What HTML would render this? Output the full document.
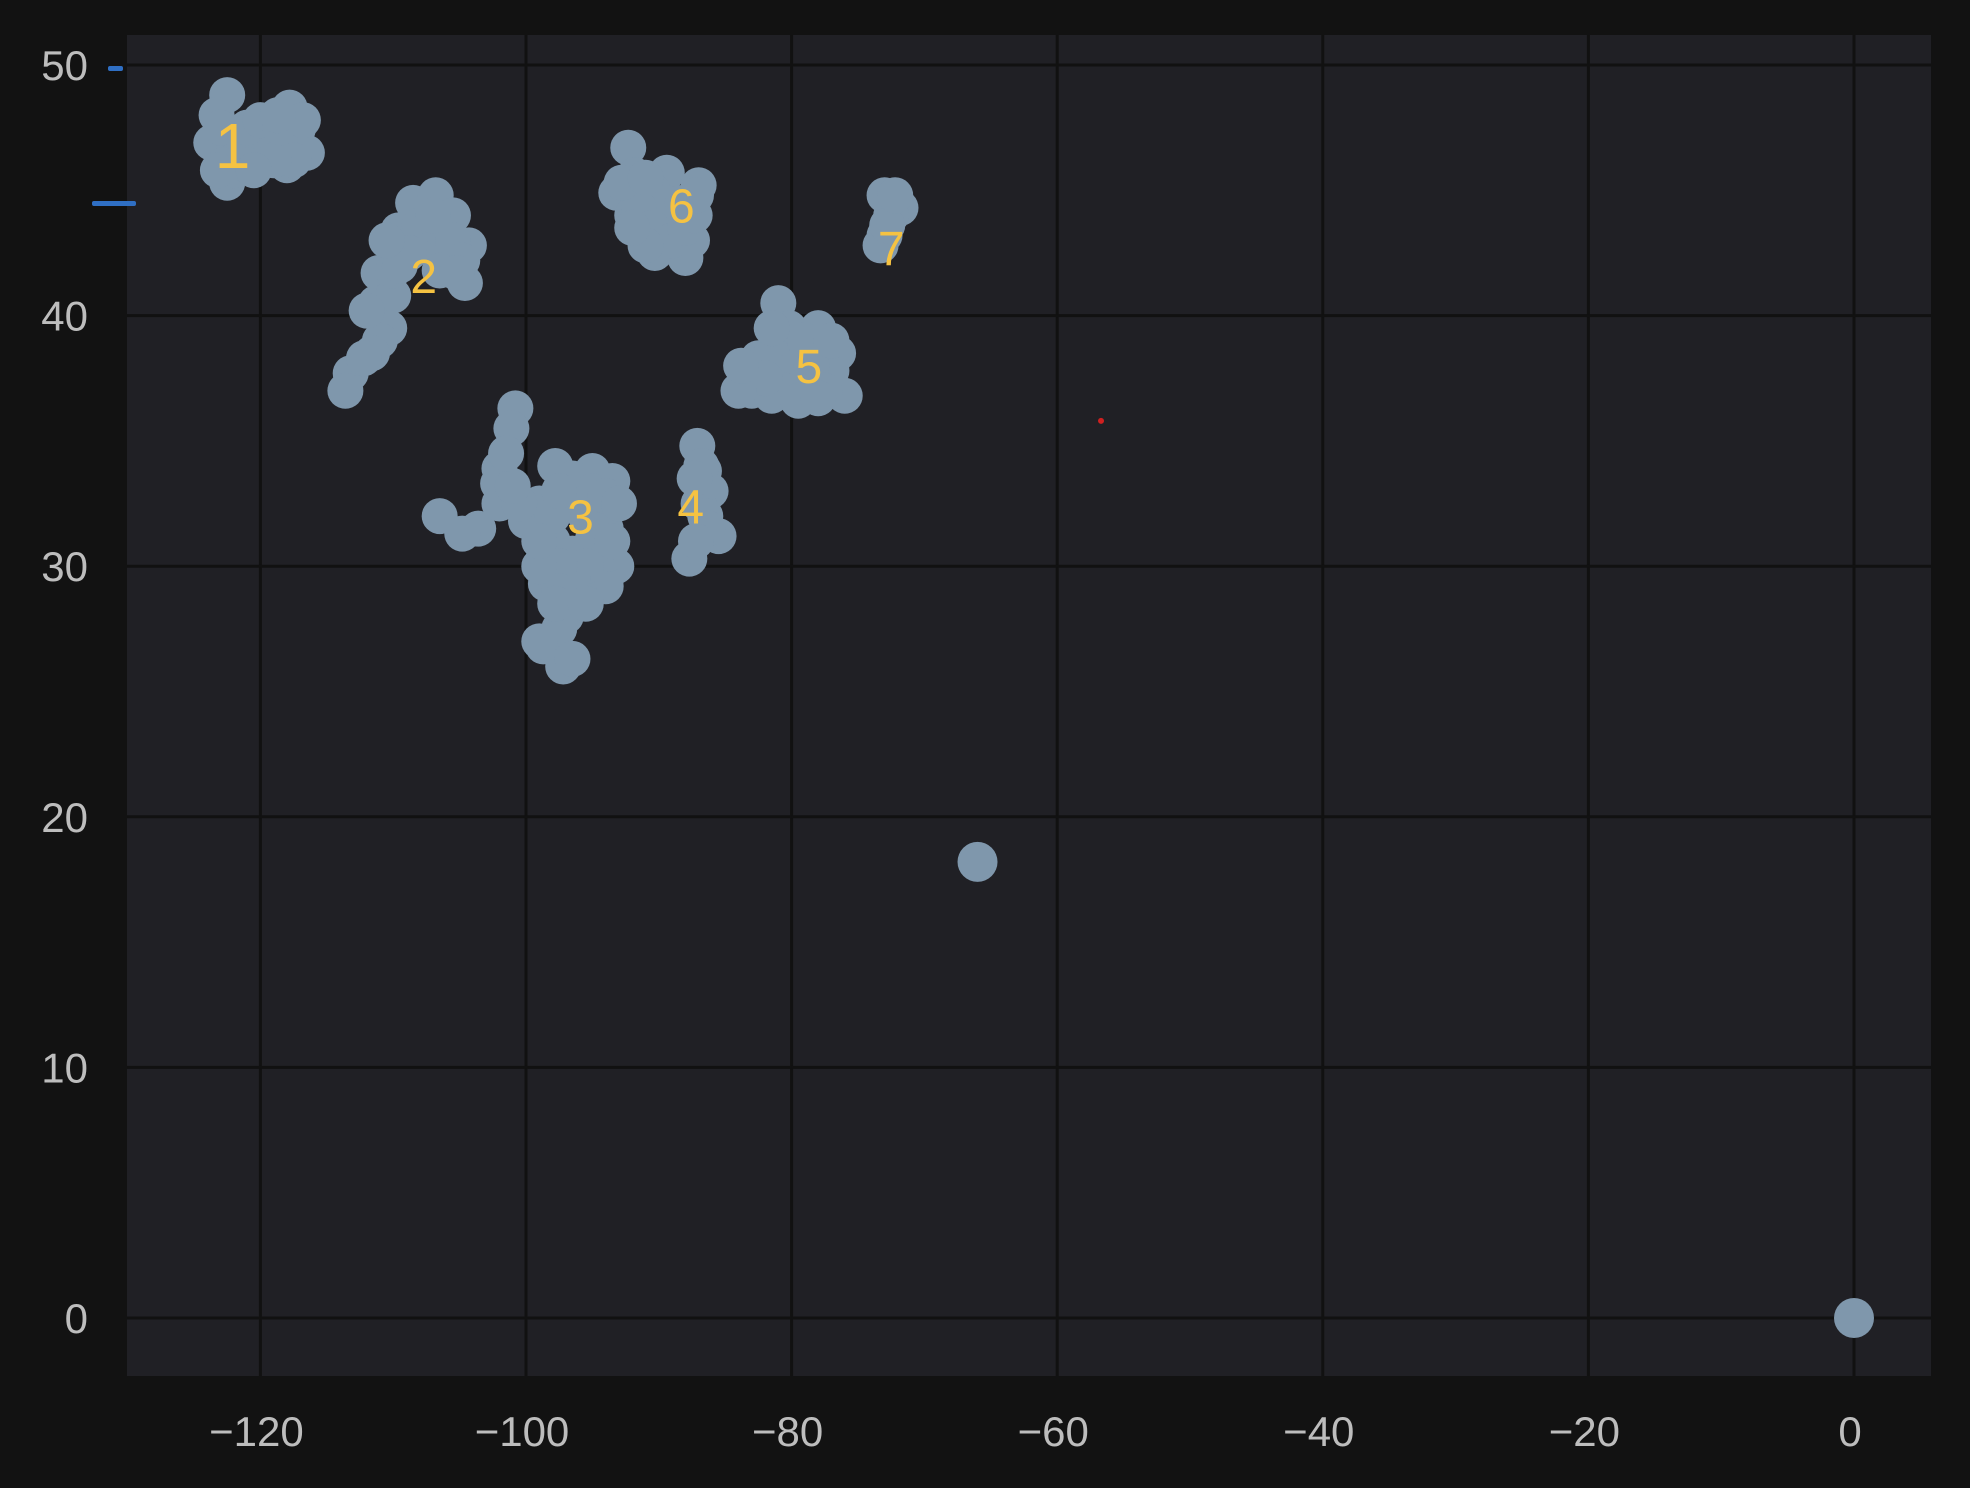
<!DOCTYPE html>
<html><head><meta charset="utf-8"><style>
html,body{margin:0;padding:0;background:#121212;}
svg{display:block}
</style></head><body>
<svg id="chart" width="1970" height="1488" xmlns="http://www.w3.org/2000/svg">
<rect x="0" y="0" width="1970" height="1488" fill="#121212"/>
<rect x="127" y="35" width="1804" height="1341" fill="#202025"/>
<g id="grid"></g>
<g id="points"></g>
<g id="labels"></g>
<g id="axes"></g>
<rect x="108" y="66" width="15" height="5" rx="2" fill="#2f6fc4"/>
<rect x="92" y="201" width="44" height="5" rx="2" fill="#2f6fc4"/>
</svg>
<script>
const xTicks=[-120,-100,-80,-60,-40,-20,0];
const yTicks=[0,10,20,30,40,50];
const lons=[-122.5,-123.3,-123.7,-122.5,-121.5,-119,-117.8,-117.2,-116.5,-118,-120,-123,-122,-117.5,
-121,-120,-121,-119,-118.5,-122.8,-123.2,-116.8,-118.7,-120.5,
-108.5,-106.8,-105.5,-109.6,-104.3,-104.6,-106,-111.1,-111.3,-110,-110.3,-111,-113.2,-113.6,-107.5,-105,
-108,-106.5,-105.5,-104.8,-106.5,-108.8,-110,-109.5,-110.5,-112,-111.6,-112.2,-107,-105.2,
-100.8,-101.1,-102,-102.1,-106.5,-103.6,-102,-97.8,-95,-93.5,-95.5,-94,-93.2,-94,-96,-98.5,-97,-98.7,-97.2,-98,-99,-100,-96.5,
-96.5,-95,-96.5,-95,-94,-93.8,-95.5,-96.5,-97.5,-97.5,-99,-98,-97.5,-99,-100.5,-101,-101.5,-104.8,-97.5,-96.5,-97.8,-99,-95.5,-93.5,-93,
-87.1,-86.6,-86.1,-87.7,-85.5,-87,
-86.8,-87.3,-86.5,-86.3,-87.2,
-81,-80.2,-78,-76.5,-82.5,-83,-81.5,-79,-76,-77,-79.5,
-80.5,-81.5,-80,-78.5,-77.5,-80.5,-82,-79,-77,-81.5,-79.5,-78,-84,-83.8,
-92.3,-93.2,-91.8,-89.4,-87,-87.5,-90.3,-88,-92,-89,
-90.5,-89.5,-88.2,-91.5,-90.5,-89,-88,-87.3,-91,-87.2,-92.8,-91,-92,
-73,-71.8,-73,-73.3,-72.5,-72.8,-72.2,
-66,0];
const lats=[48.8,48,46.9,45.3,46.5,47,48.3,47.4,46.5,46,46.5,47.5,45.8,46.2,
47.5,47.8,46,46.2,47.5,46,45.8,47.8,48,45.8,
44.5,44.8,44,43.4,42.8,41.3,42,41.7,40.5,40.8,39.5,39,37.7,37,42.8,42,
43.6,43.5,43,42.2,41.8,42.5,41.8,42,43,40.2,38.5,38.3,44,41.7,
36.3,35.5,33.9,33.3,32,31.5,32.5,34,33.8,33.4,32,31.5,30,29.2,29,29.3,28,26.8,26,31,32.5,31.8,30.5,
33.5,33,32.5,31,32.8,30.5,30,29.5,30,29,30,32,33,31,32.5,33.2,34.5,31.3,27.5,26.3,28.5,27,28.5,31,32.5,
34.8,33.8,33,30.3,31.2,32.5,
34,33.5,32,31.5,31,
40.5,39.5,39.5,38.5,38.3,37,36.8,37,36.8,37.8,38.5,
38,38.5,37.8,38,37,37,37.5,39,39,39.5,36.6,36.7,37,38,
46.7,44.9,45.6,45.7,45.2,43,42.5,42.3,44,44,
45,44.5,44.5,44.3,43.5,43,43.5,44,42.8,44.8,45.3,45.5,43.5,
44.8,44.3,43.2,42.8,44,43.6,44.8,
18.2,0];
const labelText=["1","2","3","4","5","6","7"];
const labelLon=[-122.1,-107.7,-95.9,-87.6,-78.7,-88.3,-72.5];
const labelLat=[46.8,41.6,32,32.4,38,44.4,42.7];
const NS="http://www.w3.org/2000/svg";
const X=v=>1854+v*13.28;
const Y=v=>1318-v*25.06;
function mk(t,a,p){const e=document.createElementNS(NS,t);for(const k in a)e.setAttribute(k,a[k]);p.appendChild(e);return e;}
const grid=document.getElementById('grid'),axes=document.getElementById('axes'),pts=document.getElementById('points'),lab=document.getElementById('labels');
xTicks.forEach(t=>{
 const l=mk('line',{x1:X(t),x2:X(t),y1:35,y2:1376,stroke:'#111',"stroke-width":3},grid);
 
 
 const tx=mk('text',{x:X(t)-4,y:1446,fill:'#bdbdbd',"font-size":42,"text-anchor":"middle","font-family":"Liberation Sans, sans-serif"},axes);
 tx.textContent=(t<0?'\u2212'+(-t):t);
 
 
});
yTicks.forEach(t=>{
 const l=mk('line',{x1:127,x2:1931,y1:Y(t),y2:Y(t),stroke:'#111',"stroke-width":3},grid);
 
 
 const tx=mk('text',{x:88,y:Y(t)+15,fill:'#bdbdbd',"font-size":42,"text-anchor":"end","font-family":"Liberation Sans, sans-serif"},axes);
 tx.textContent=t;
 
 
});
for(let i=0;i<lons.length;i++){
 const c=mk('circle',{cx:X(lons[i]),cy:Y(lats[i]),r:(i>=lons.length-2?20:18),fill:'#7f97ac'},pts);
 
 
}
const red=mk('circle',{cx:X(-56.7),cy:Y(35.8),r:3,fill:'#d02020'},pts);


for(let i=0;i<labelText.length;i++){
 const fs=i===0?64:48;
 const t=mk('text',{x:X(labelLon[i]),y:Y(labelLat[i])+fs*0.36,fill:'#f5c242',"font-size":fs,"text-anchor":"middle","font-family":"Liberation Sans, sans-serif"},lab);
 t.textContent=labelText[i];
 
 
}
</script>
</body></html>
